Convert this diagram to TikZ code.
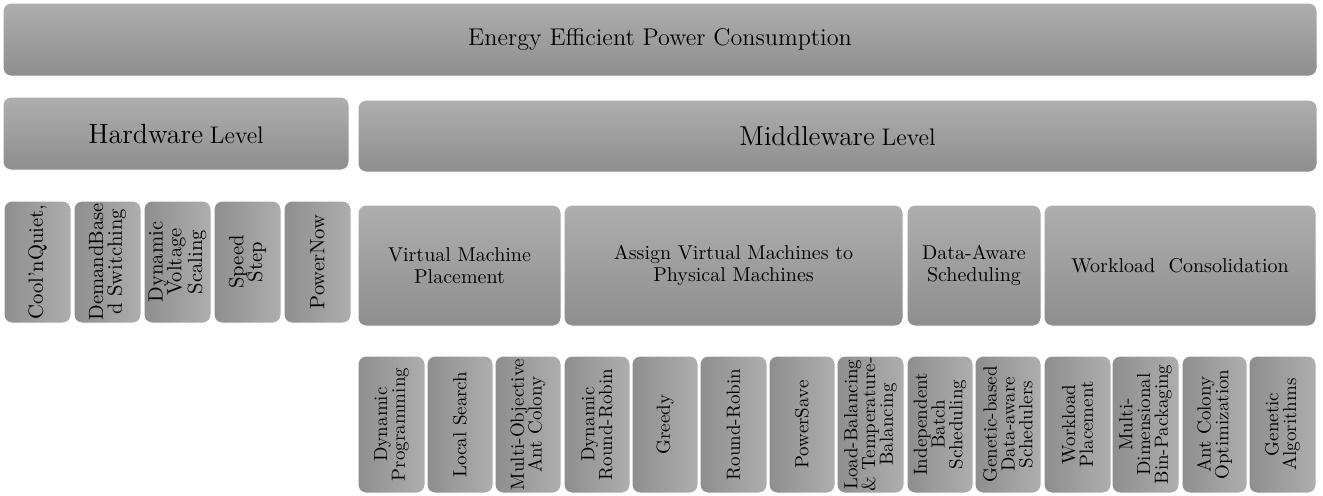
\documentclass[tikz,border=0pt]{standalone}

\definecolor{tiertop}{RGB}{174,174,174}
\definecolor{tierbot}{RGB}{142,142,142}

\tikzset{
  tier/.style={draw=white, line width=0.5pt, rounded corners=4pt,
    top color=tiertop, bottom color=tierbot, inner sep=0pt, align=center},
  leaf/.style={tier, rounded corners=4pt, rotate=90,
    left color=tierbot, right color=tiertop},
}

\begin{document}
\begin{tikzpicture}[x=0.5pt,y=-0.5pt]

        \useasboundingbox (0,0) rectangle (1323,495);

        % levels
        \node[tier, minimum width=657pt, minimum height=36.5pt,
              font=\fontsize{12.1}{14}\selectfont] (energy) at (660,39.5)
              {Energy Efficient Power Consumption};
        \node[tier, minimum width=173pt, minimum height=36.5pt] (hw) at (176,133.5)
              {{\fontsize{13.9}{16}\selectfont Hardware} {\fontsize{12}{14}\selectfont Level}};
        \node[tier, minimum width=479.5pt, minimum height=36pt] (mw) at (837.5,136)
              {{\fontsize{13.7}{16}\selectfont Middleware} {\fontsize{12}{14}\selectfont Level}};

        % hardware techniques
        \foreach \xa/\xb/\txt [count=\i, evaluate=\xb as \boxw using (\xb-\xa)*0.5] in
          {4/71/{Cool'nQuiet,}, 74/141/{DemandBase\\d Switching},
           144/211/{Dynamic\\Voltage\\Scaling}, 214/281/{Speed\\Step},
           284/351/{PowerNow}}
          \node[leaf, minimum width=61pt, minimum height=\boxw pt,
                font=\fontsize{10.3}{9.3}\selectfont]
            (tech\i) at ({(\xa+\xb)/2},262) {\txt};

        % middleware approaches
        \node[tier, minimum width=101.5pt, minimum height=60.5pt,
              font=\fontsize{10}{11}\selectfont] (vmp) at (459.5,265.5)
              {Virtual Machine\\Placement};
        \node[tier, minimum width=169.5pt, minimum height=60.5pt,
              font=\fontsize{10}{11}\selectfont] (assign) at (733.5,265.5)
              {Assign Virtual Machines to\\Physical Machines};
        \node[tier, minimum width=67pt, minimum height=60.5pt,
              font=\fontsize{10}{11}\selectfont] (daware) at (974,265.5)
              {Data-Aware\\Scheduling};
        \node[tier, minimum width=136pt, minimum height=60.5pt,
              font=\fontsize{10}{11}\selectfont] (consol) at (1180,265.5)
              {Workload\ \ Consolidation};

        % algorithms
        \foreach \xa/\xb/\txt [count=\i, evaluate=\xb as \boxw using (\xb-\xa)*0.5] in
          {358/425/{Dynamic\\Programming}, 427/493/{Local Search},
           495/561/{Multi-Objective\\Ant Colony},
           564/630/{Dynamic\\Round-Robin}, 632/698/{Greedy},
           700/767/{Round-Robin}, 769/835/{PowerSave},
           837/904/{Load-Balancing\\\& Temperature-\\Balancing},
           907/973/{Independent\\Batch\\Scheduling},
           975/1041/{Genetic-based\\Data-aware\\Schedulers},
           1044/1111/{Workload\\Placement}, 1112/1179/{Multi-\\Dimensional\\Bin-Packaging},
           1182/1247/{Ant Colony\\Optimization}, 1249/1316/{Genetic\\Algorithms}}
          \node[leaf, minimum width=68.5pt, minimum height=\boxw pt,
                font=\fontsize{9.5}{8.9}\selectfont]
            (alg\i) at ({(\xa+\xb)/2},424.5) {\txt};

\end{tikzpicture}
\end{document}
